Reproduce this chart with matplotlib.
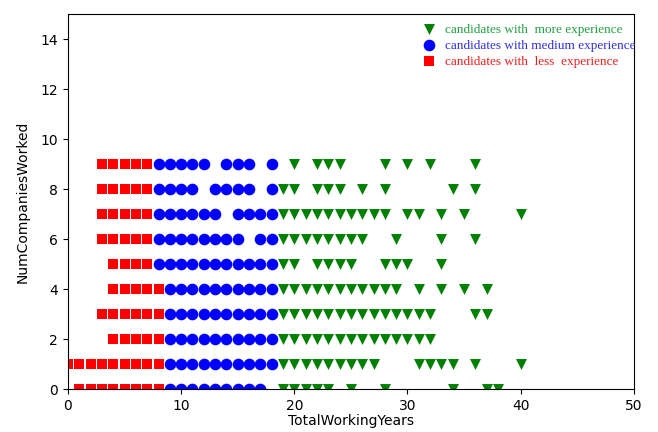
import matplotlib
matplotlib.use("Agg")
import matplotlib.pyplot as plt

# x values (TotalWorkingYears) for each NumCompaniesWorked row 0..9
less_rows = [
    [1, 2, 3, 4, 5, 6, 7, 8],
    [0, 1, 2, 3, 4, 5, 6, 7, 8],
    [4, 5, 6, 7, 8],
    [3, 4, 5, 6, 7, 8],
    [4, 5, 6, 7, 8],
    [4, 5, 6, 7],
    [3, 4, 5, 6, 7],
    [3, 4, 5, 6, 7],
    [3, 4, 5, 6, 7],
    [3, 4, 5, 6, 7],
]
medium_rows = [
    [9, 10, 11, 12, 13, 14, 15, 16, 17],
    [9, 10, 11, 12, 13, 14, 15, 16, 17, 18],
    [9, 10, 11, 12, 13, 14, 15, 16, 17, 18],
    [9, 10, 11, 12, 13, 14, 15, 16, 17, 18],
    [9, 10, 11, 12, 13, 14, 15, 16, 17, 18],
    [8, 9, 10, 11, 12, 13, 14, 15, 16, 17, 18],
    [8, 9, 10, 11, 12, 13, 14, 15, 17, 18],
    [8, 9, 10, 11, 12, 13, 15, 16, 17, 18],
    [8, 9, 10, 11, 13, 14, 15, 16, 18],
    [8, 9, 10, 11, 12, 14, 15, 16, 18],
]
more_rows = [
    [19, 20, 21, 22, 23, 25, 28, 34, 37, 38],
    [19, 20, 21, 22, 23, 24, 25, 26, 27, 31, 32, 33, 34, 36, 40],
    [19, 20, 21, 22, 23, 24, 25, 26, 27, 28, 29, 30, 31, 32],
    [19, 20, 21, 22, 23, 24, 25, 26, 27, 28, 29, 30, 31, 32, 36, 37],
    [19, 20, 21, 22, 23, 24, 25, 26, 27, 28, 29, 31, 33, 35, 37],
    [19, 20, 22, 23, 24, 25, 28, 29, 30, 33],
    [19, 20, 21, 22, 23, 24, 25, 26, 29, 33, 36],
    [19, 20, 21, 22, 23, 24, 25, 26, 27, 28, 30, 31, 33, 35, 40],
    [19, 20, 22, 23, 24, 26, 28, 34, 36],
    [20, 22, 23, 24, 28, 30, 32, 36],
]
labels = ["candidates with  more experience",
          "candidates with medium experience",
          "candidates with  less  experience"]


def flatten(rows):
    xs, ys = [], []
    for y, row in enumerate(rows):
        for x in row:
            xs.append(x)
            ys.append(y)
    return xs, ys


fig = plt.figure(figsize=(6.58, 4.32), dpi=100)
ax = fig.add_axes([0.1033, 0.0995, 0.860, 0.868])

lx, ly = flatten(less_rows)
mx, my = flatten(medium_rows)
gx, gy = flatten(more_rows)

h_less = ax.scatter(lx, ly, c='red', marker='s', s=58, linewidths=0)
h_med = ax.scatter(mx, my, c='blue', marker='o', s=70, linewidths=0)
h_more = ax.scatter(gx, gy, c='green', marker='v', s=62, linewidths=0)

ax.set_xlim(0, 50)
ax.set_ylim(0, 15)
ax.set_xticks([0, 10, 20, 30, 40, 50])
ax.set_yticks([0, 2, 4, 6, 8, 10, 12, 14])
ax.tick_params(labelsize=10)
ax.set_xlabel('TotalWorkingYears', fontsize=10, labelpad=1)
ax.set_ylabel('NumCompaniesWorked', fontsize=10, labelpad=8)

leg = ax.legend([h_more, h_med, h_less], labels, loc='upper right',
                bbox_to_anchor=(1.02, 1.0), frameon=False,
                prop={'family': 'Liberation Serif', 'size': 9.5},
                handletextpad=0.25, labelspacing=0.3, borderaxespad=0.3,
                markerscale=1.0)
for txt, col in zip(leg.get_texts(), ['#22a040', '#3030dd', '#ee2020']):
    txt.set_color(col)

fig.savefig('out.png', dpi=100)
